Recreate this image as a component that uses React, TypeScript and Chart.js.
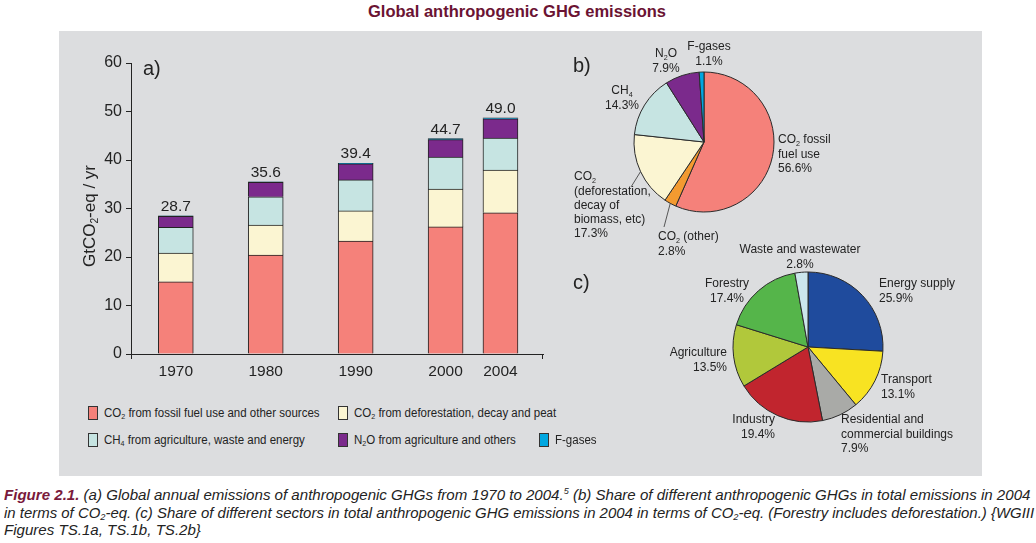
import React, { useEffect, useLayoutEffect, useRef } from 'react';
import { Chart, registerables } from 'chart.js';
Chart.register(...registerables);

// ---------- data ----------
const years = ['1970', '1980', '1990', '2000', '2004'];
const co2Fossil = [14.9, 20.4, 23.3, 26.2, 29.1];
const co2Deforest = [5.9, 6.2, 6.2, 7.8, 8.8];
const ch4 = [5.3, 5.8, 6.4, 6.6, 6.6];
const n2o = [2.3, 3.0, 3.3, 3.6, 4.0];
const fGases = [0.1, 0.1, 0.1, 0.2, 0.2];
const totals = ['28.7', '35.6', '39.4', '44.7', '49.0'];
const yTicks = [0, 10, 20, 30, 40, 50, 60];

const gasNames = ['CO2 fossil fuel use', 'CO2 (other)', 'CO2 (deforestation, decay of biomass, etc)', 'CH4', 'N2O', 'F-gases'];
const gasShares = [56.6, 2.8, 17.3, 14.3, 7.9, 1.1];
const sectorNames = ['Energy supply', 'Transport', 'Residential and commercial buildings', 'Industry', 'Agriculture', 'Forestry', 'Waste and wastewater'];
const sectorShares = [25.9, 13.1, 7.9, 19.4, 13.5, 17.4, 2.8];

// ---------- layout / style ----------
const barSlots = [0, 1, 2, 3, 3.61];
const FONT = '"Liberation Sans", Arial, Helvetica, sans-serif';
const INK = '#232323';
const C_FOSSIL = '#f5817a';
const C_DEFOR = '#fbf5d2';
const C_CH4 = '#c6e4e2';
const C_N2O = '#7b2a8c';
const C_FGAS = '#00a7e1';
const C_OTHER = '#f39a30';
const gasColors = [C_FOSSIL, C_OTHER, C_DEFOR, C_CH4, C_N2O, C_FGAS];
const sectorColors = ['#1f4b9d', '#f8e322', '#a9aaa7', '#c1252e', '#b1c83b', '#55b54a', '#cbe6ec'];

function drawRich(ctx: CanvasRenderingContext2D, text: string, x: number, y: number, align: string, size: number) {
  const parts = text.split(/(_\d)/).filter(Boolean).map((p) => (p.startsWith('_') ? { t: p.slice(1), sub: true } : { t: p, sub: false }));
  const subSize = size * 0.6;
  let w = 0;
  const widths = parts.map((p) => {
    ctx.font = `${p.sub ? subSize : size}px ${FONT}`;
    const m = ctx.measureText(p.t).width;
    w += m;
    return m;
  });
  let cx = align === 'left' ? x : align === 'right' ? x - w : x - w / 2;
  ctx.textAlign = 'left';
  ctx.textBaseline = 'middle';
  parts.forEach((p, k) => {
    ctx.font = `${p.sub ? subSize : size}px ${FONT}`;
    ctx.fillText(p.t, cx, p.sub ? y + size * 0.32 : y);
    cx += widths[k];
  });
}

type LabelSpec = { i: number; lines: string[]; x: number; y: number; align: string; leader?: [number, number] };

const gasLabelLayout: LabelSpec[] = [
  { i: 0, lines: ['CO_2 fossil', 'fuel use'], x: 218, y: 105, align: 'left' },
  { i: 1, lines: ['CO_2 (other)'], x: 98, y: 202, align: 'left', leader: [104, 192] },
  { i: 2, lines: ['CO_2', '(deforestation,', 'decay of', 'biomass, etc)'], x: 14, y: 142, align: 'left', leader: [71, 152] },
  { i: 3, lines: ['CH_4'], x: 62, y: 56, align: 'center' },
  { i: 4, lines: ['N_2O'], x: 106, y: 19, align: 'center' },
  { i: 5, lines: ['F-gases'], x: 149, y: 12, align: 'center' },
];

const sectorLabelLayout: LabelSpec[] = [
  { i: 0, lines: ['Energy supply'], x: 319, y: 44, align: 'left' },
  { i: 1, lines: ['Transport'], x: 321, y: 140, align: 'left' },
  { i: 2, lines: ['Residential and', 'commercial buildings'], x: 281, y: 180, align: 'left' },
  { i: 3, lines: ['Industry'], x: 215, y: 180, align: 'right' },
  { i: 4, lines: ['Agriculture'], x: 167, y: 113, align: 'right' },
  { i: 5, lines: ['Forestry'], x: 167, y: 44, align: 'center' },
  { i: 6, lines: ['Waste and wastewater'], x: 240, y: 10, align: 'center' },
];

function pieLabelPlugin(id: string, specs: LabelSpec[], shares: number[], tag: string, tagPos: [number, number]) {
  return {
    id,
    afterDraw(chart: any) {
      const ctx: CanvasRenderingContext2D = chart.ctx;
      const meta = chart.getDatasetMeta(0);
      ctx.save();
      ctx.fillStyle = INK;
      ctx.strokeStyle = '#333';
      ctx.lineWidth = 0.8;
      specs.forEach((s) => {
        const lines = [...s.lines, `${shares[s.i].toFixed(1)}%`];
        lines.forEach((ln, k) => drawRich(ctx, ln, s.x, s.y + k * 14.2, s.align, 12));
        if (s.leader) {
          const arc = meta.data[s.i];
          const a = (arc.startAngle + arc.endAngle) / 2;
          const sx = arc.x + Math.cos(a) * arc.outerRadius;
          const sy = arc.y + Math.sin(a) * arc.outerRadius;
          ctx.beginPath();
          ctx.moveTo(sx, sy);
          ctx.lineTo(s.leader[0], s.leader[1]);
          ctx.stroke();
        }
      });
      ctx.font = `20px ${FONT}`;
      ctx.textAlign = 'left';
      ctx.textBaseline = 'middle';
      ctx.fillText(tag, tagPos[0], tagPos[1]);
      ctx.restore();
    },
  };
}

const barDecor = {
  id: 'barDecor',
  afterDatasetsDraw(chart: any) {
    const ctx: CanvasRenderingContext2D = chart.ctx;
    const last = chart.getDatasetMeta(chart.data.datasets.length - 1);
    ctx.save();
    ctx.fillStyle = INK;
    ctx.font = `15.5px ${FONT}`;
    ctx.textAlign = 'center';
    ctx.textBaseline = 'alphabetic';
    last.data.forEach((el: any, i: number) => ctx.fillText(totals[i], el.x, el.y - 5));
    const { left, right, bottom } = chart.chartArea;
    ctx.strokeStyle = INK;
    ctx.lineWidth = 1;
    ctx.beginPath();
    ctx.moveTo(Math.round(left) + 0.5, bottom);
    ctx.lineTo(Math.round(left) + 0.5, bottom + 5);
    ctx.moveTo(Math.round(right) - 0.5, bottom);
    ctx.lineTo(Math.round(right) - 0.5, bottom + 5);
    ctx.stroke();
    ctx.font = `20px ${FONT}`;
    ctx.textAlign = 'left';
    ctx.textBaseline = 'middle';
    ctx.fillText('a)', 85, 39);
    ctx.translate(32, 186);
    ctx.rotate(-Math.PI / 2);
    drawRich(ctx, 'GtCO_2-eq / yr', 0, 0, 'center', 17);
    ctx.restore();
  },
};

function Legend({ x, y, color, children }: { x: number; y: number; color: string; children: any }) {
  return (
    <>
      <div style={{ position: 'absolute', left: x, top: y - 7, width: 10, height: 14, boxSizing: 'border-box', border: '1px solid #333', background: color }} />
      <span style={{ position: 'absolute', left: x + 16, top: y - 8, lineHeight: '16px', fontSize: 12.5, color: INK, whiteSpace: 'nowrap', transform: 'scaleX(0.92)', transformOrigin: 'left center' }}>{children}</span>
    </>
  );
}

const sub = (t: string) => <sub style={{ fontSize: '0.62em', verticalAlign: '-0.2em', lineHeight: 0 }}>{t}</sub>;

export default function App() {
  const barRef = useRef<HTMLCanvasElement>(null);
  const pieBRef = useRef<HTMLCanvasElement>(null);
  const pieCRef = useRef<HTMLCanvasElement>(null);
  const capRefs = useRef<(HTMLSpanElement | null)[]>([]);

  useEffect(() => {
    const mk = (data: number[]) => data.map((v, i) => ({ x: barSlots[i], y: v }));
    const ds = (label: string, data: number[], color: string) => ({
      label,
      data: mk(data),
      backgroundColor: color,
      borderColor: INK,
      borderWidth: 1,
      barThickness: 35,
    });
    const bar = new Chart(barRef.current!, {
      type: 'bar',
      data: {
        datasets: [
          ds('CO2 from fossil fuel use and other sources', co2Fossil, C_FOSSIL),
          ds('CO2 from deforestation, decay and peat', co2Deforest, C_DEFOR),
          ds('CH4 from agriculture, waste and energy', ch4, C_CH4),
          ds('N2O from agriculture and others', n2o, C_N2O),
          ds('F-gases', fGases, C_FGAS),
        ] as any,
      },
      options: {
        animation: false,
        responsive: false,
        devicePixelRatio: 1,
        layout: { padding: { top: 33, right: 17, left: 0, bottom: 0 } },
        plugins: { legend: { display: false }, tooltip: { enabled: false } },
        scales: {
          x: {
            type: 'linear',
            stacked: true,
            offset: false,
            min: -0.498,
            max: 4.083,
            afterBuildTicks: (s: any) => { s.ticks = barSlots.map((v) => ({ value: v })); },
            afterFit: (s: any) => { s.height = 36; },
            ticks: {
              autoSkip: false,
              maxRotation: 0,
              padding: 8,
              color: INK,
              font: { family: FONT, size: 15.5 },
              callback: (_v: any, i: number) => years[i],
            },
            grid: { display: false, drawTicks: false },
            border: { display: true, color: INK, width: 1 },
          },
          y: {
            stacked: true,
            min: 0,
            max: 60,
            afterBuildTicks: (s: any) => { s.ticks = yTicks.map((v) => ({ value: v })); },
            afterFit: (s: any) => { s.width = 73; },
            ticks: { padding: 4, color: INK, font: { family: FONT, size: 16 } },
            grid: { drawOnChartArea: false, tickLength: 5, color: INK },
            border: { display: true, color: INK, width: 1 },
          },
        },
      } as any,
      plugins: [barDecor],
    });

    const pieB = new Chart(pieBRef.current!, {
      type: 'pie',
      data: { labels: gasNames, datasets: [{ data: gasShares, backgroundColor: gasColors, borderColor: '#2a2a2a', borderWidth: 1, radius: 70 } as any] },
      options: {
        animation: false,
        responsive: false,
        devicePixelRatio: 1,
        layout: { padding: { left: 74, right: 86, top: 37, bottom: 58 } },
        plugins: { legend: { display: false }, tooltip: { enabled: false } },
      } as any,
      plugins: [pieLabelPlugin('pieBLabels', gasLabelLayout, gasShares, 'b)', [13, 31])],
    });

    const pieC = new Chart(pieCRef.current!, {
      type: 'pie',
      data: { labels: sectorNames, datasets: [{ data: sectorShares, backgroundColor: sectorColors, borderColor: '#2a2a2a', borderWidth: 1, radius: 75 } as any] },
      options: {
        animation: false,
        responsive: false,
        devicePixelRatio: 1,
        layout: { padding: { left: 173, right: 107, top: 32, bottom: 48 } },
        plugins: { legend: { display: false }, tooltip: { enabled: false } },
      } as any,
      plugins: [pieLabelPlugin('pieCLabels', sectorLabelLayout, sectorShares, 'c)', [13, 43])],
    });

    return () => {
      bar.destroy();
      pieB.destroy();
      pieC.destroy();
    };
  }, []);

  useLayoutEffect(() => {
    const els = capRefs.current;
    const targets = [1026, 1030];
    let s0 = 1;
    els.forEach((el, k) => {
      if (!el) return;
      const w = el.offsetWidth;
      let s = k < 2 ? targets[k] / w : s0;
      if (k === 0) s0 = s;
      el.style.transform = `scaleX(${s})`;
    });
  }, []);

  const capStyle = (top: number): React.CSSProperties => ({
    position: 'absolute',
    left: 4,
    top,
    fontSize: 15,
    lineHeight: '18px',
    fontStyle: 'italic',
    color: INK,
    whiteSpace: 'nowrap',
    transformOrigin: 'left center',
  });

  return (
    <div style={{ position: 'absolute', left: 0, top: 0, width: 1036, height: 543, background: '#fff', overflow: 'hidden', fontFamily: FONT }}>
      <div style={{ position: 'absolute', left: 0, top: 2, width: 1034, textAlign: 'center', fontWeight: 'bold', fontSize: 16.5, lineHeight: '18px', color: '#6b1333' }}>
        Global anthropogenic GHG emissions
      </div>
      <div style={{ position: 'absolute', left: 59, top: 31, width: 923, height: 445, background: '#dcdddf' }} />
      <canvas ref={barRef} width={502} height={360} style={{ position: 'absolute', left: 58, top: 30 }} />
      <canvas ref={pieBRef} width={300} height={235} style={{ position: 'absolute', left: 560, top: 35 }} />
      <canvas ref={pieCRef} width={430} height={230} style={{ position: 'absolute', left: 560, top: 240 }} />

      <Legend x={88} y={413} color={C_FOSSIL}>CO{sub('2')} from fossil fuel use and other sources</Legend>
      <Legend x={338} y={413} color={C_DEFOR}>CO{sub('2')} from deforestation, decay and peat</Legend>
      <Legend x={88} y={440} color={C_CH4}>CH{sub('4')} from agriculture, waste and energy</Legend>
      <Legend x={338} y={440} color={C_N2O}>N{sub('2')}O from agriculture and others</Legend>
      <Legend x={539} y={440} color={C_FGAS}>F-gases</Legend>

      <span ref={(el) => { capRefs.current[0] = el; }} style={capStyle(486)}>
        <b style={{ color: '#7a1a3c' }}>Figure 2.1.</b> (a) Global annual emissions of anthropogenic GHGs from 1970 to 2004.<sup style={{ fontSize: '0.6em', lineHeight: 0 }}>5</sup> (b) Share of different anthropogenic GHGs in total emissions in 2004
      </span>
      <span ref={(el) => { capRefs.current[1] = el; }} style={capStyle(504)}>
        in terms of CO{sub('2')}-eq. (c) Share of different sectors in total anthropogenic GHG emissions in 2004 in terms of CO{sub('2')}-eq. (Forestry includes deforestation.) {'{'}WGIII
      </span>
      <span ref={(el) => { capRefs.current[2] = el; }} style={capStyle(521)}>
        Figures TS.1a, TS.1b, TS.2b{'}'}
      </span>
    </div>
  );
}
